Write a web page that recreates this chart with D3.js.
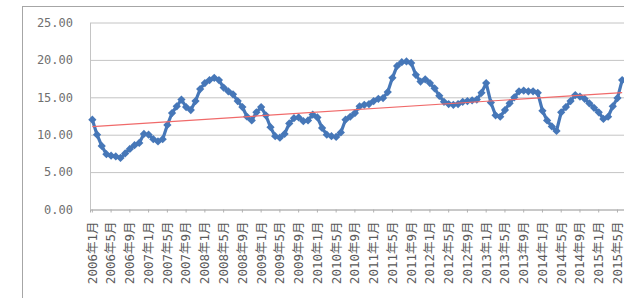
<!DOCTYPE html>
<html>
<head>
<meta charset="utf-8">
<script src="https://cdn.jsdelivr.net/npm/d3@7"></script>
<style>
  html, body { margin: 0; padding: 0; background: #fff; }
  svg { display: block; }
  text { font-family: 'DejaVu Sans Mono', 'Noto Sans CJK SC', monospace; }
</style>
</head>
<body>
<svg id="chart" width="624" height="298"></svg>
<script>
// monthly values, 2006-01 .. 2015-06
const values = [
  12.0, 10.0, 8.5, 7.4, 7.2, 7.1, 6.9, 7.5, 8.1, 8.6, 8.9, 10.1,
  10.0, 9.4, 9.1, 9.4, 11.3, 12.9, 13.8, 14.7, 13.7, 13.3, 14.5, 16.1,
  16.9, 17.3, 17.6, 17.3, 16.3, 15.8, 15.4, 14.5, 13.7, 12.4, 11.9, 13.0,
  13.7, 12.6, 11.0, 9.8, 9.6, 10.1, 11.5, 12.2, 12.3, 11.8, 11.9, 12.7,
  12.3, 10.9, 10.0, 9.8, 9.7, 10.3, 12.0, 12.4, 12.9, 13.8, 14.0, 14.1,
  14.5, 14.8, 14.9, 15.7, 17.6, 19.2, 19.7, 19.8, 19.6, 18.0, 17.1, 17.4,
  16.9, 16.2, 15.2, 14.4, 14.1, 14.0, 14.1, 14.4, 14.5, 14.6, 14.7, 15.6,
  16.9, 14.3, 12.6, 12.4, 13.3, 14.2, 15.0, 15.8, 15.9, 15.8, 15.8, 15.6,
  13.2, 11.9, 11.1, 10.5, 13.0, 13.7, 14.5, 15.3, 15.1, 14.8, 14.2, 13.6,
  13.0, 12.1, 12.4, 13.8, 14.9, 17.3
];

const months = d3.timeMonth.range(new Date(2006, 0, 1), new Date(2015, 6, 1));
const categories = months.map(d => d3.timeFormat('%Y-%m')(d));

const tickLabels = [
  '2006年1月', '2006年5月', '2006年9月', '2007年1月', '2007年5月', '2007年9月',
  '2008年1月', '2008年5月', '2008年9月', '2009年1月', '2009年5月', '2009年9月',
  '2010年1月', '2010年5月', '2010年9月', '2011年1月', '2011年5月', '2011年9月',
  '2012年1月', '2012年5月', '2012年9月', '2013年1月', '2013年5月', '2013年9月',
  '2014年1月', '2014年5月', '2014年9月', '2015年1月', '2015年5月'
];
const yTicks = [0, 5, 10, 15, 20, 25];

const svg = d3.select('#chart');

// outer chart frame
svg.append('rect')
  .attr('x', 22.5).attr('y', 6.5)
  .attr('width', 640).attr('height', 320)
  .attr('fill', '#fff')
  .attr('stroke', '#a6a6a6');

const plotLeft = 90, plotRight = 624.5, plotTop = 22.5, plotBottom = 209.5;

const x = d3.scaleBand()
  .domain(categories)
  .range([plotLeft, plotRight]);

const y = d3.scaleLinear()
  .domain([0, 25])
  .range([plotBottom, plotTop]);

// gridlines
svg.append('g')
  .attr('transform', 'translate(' + plotLeft + ',0)')
  .call(d3.axisLeft(y).tickValues(yTicks).tickSize(-(plotRight - plotLeft)).tickFormat(''))
  .call(g => g.select('.domain').remove())
  .selectAll('line')
  .attr('stroke', '#c4c4c4');

// y axis labels
svg.append('g')
  .attr('transform', 'translate(' + plotLeft + ',0)')
  .call(d3.axisLeft(y).tickValues(yTicks).tickSize(0).tickPadding(17).tickFormat(d3.format('.2f')))
  .call(g => g.select('.domain').attr('stroke', '#c4c4c4'))
  .selectAll('text')
  .attr('font-size', 12)
  .attr('fill', '#707070');

// x axis
const tickCats = categories.filter((d, i) => i % 4 === 0);
const xAxis = svg.append('g')
  .attr('transform', 'translate(0,' + plotBottom + ')')
  .call(d3.axisBottom(x).tickValues(tickCats).tickSize(3)
    .tickFormat((d, i) => tickLabels[i]));
xAxis.select('.domain').attr('stroke', '#b0b0b0');
xAxis.selectAll('line').attr('stroke', '#b0b0b0');
xAxis.selectAll('text')
  .attr('font-size', 12.5)
  .attr('fill', '#5a5a5a')
  .attr('text-anchor', 'end')
  .attr('transform', 'translate(0,-3) rotate(-90)')
  .attr('x', -15)
  .attr('y', 0)
  .attr('dy', '0.35em');

const cx = (d, i) => x(categories[i]) + x.bandwidth() / 2;

// series line + markers
svg.append('path')
  .datum(values)
  .attr('fill', 'none')
  .attr('stroke', '#4677b8')
  .attr('stroke-width', 3.2)
  .attr('stroke-linejoin', 'round')
  .attr('d', d3.line().x(cx).y(d => y(d)));

svg.append('g')
  .selectAll('path')
  .data(values)
  .enter()
  .append('path')
  .attr('d', d3.symbol().type(d3.symbolSquare).size(34))
  .attr('transform', (d, i) => 'translate(' + cx(d, i) + ',' + y(d) + ') rotate(45)')
  .attr('fill', '#4677b8');

// linear trend line (least squares)
const n = values.length;
const xm = d3.mean(values, (d, i) => i);
const ym = d3.mean(values);
const slope = d3.sum(values, (d, i) => (i - xm) * (d - ym)) / d3.sum(values, (d, i) => (i - xm) * (i - xm));
const icpt = ym - slope * xm;
svg.append('line')
  .attr('x1', cx(null, 0)).attr('y1', y(icpt))
  .attr('x2', cx(null, n - 1)).attr('y2', y(icpt + slope * (n - 1)))
  .attr('stroke', '#f06a6a')
  .attr('stroke-width', 1.2);
</script>
</body>
</html>
